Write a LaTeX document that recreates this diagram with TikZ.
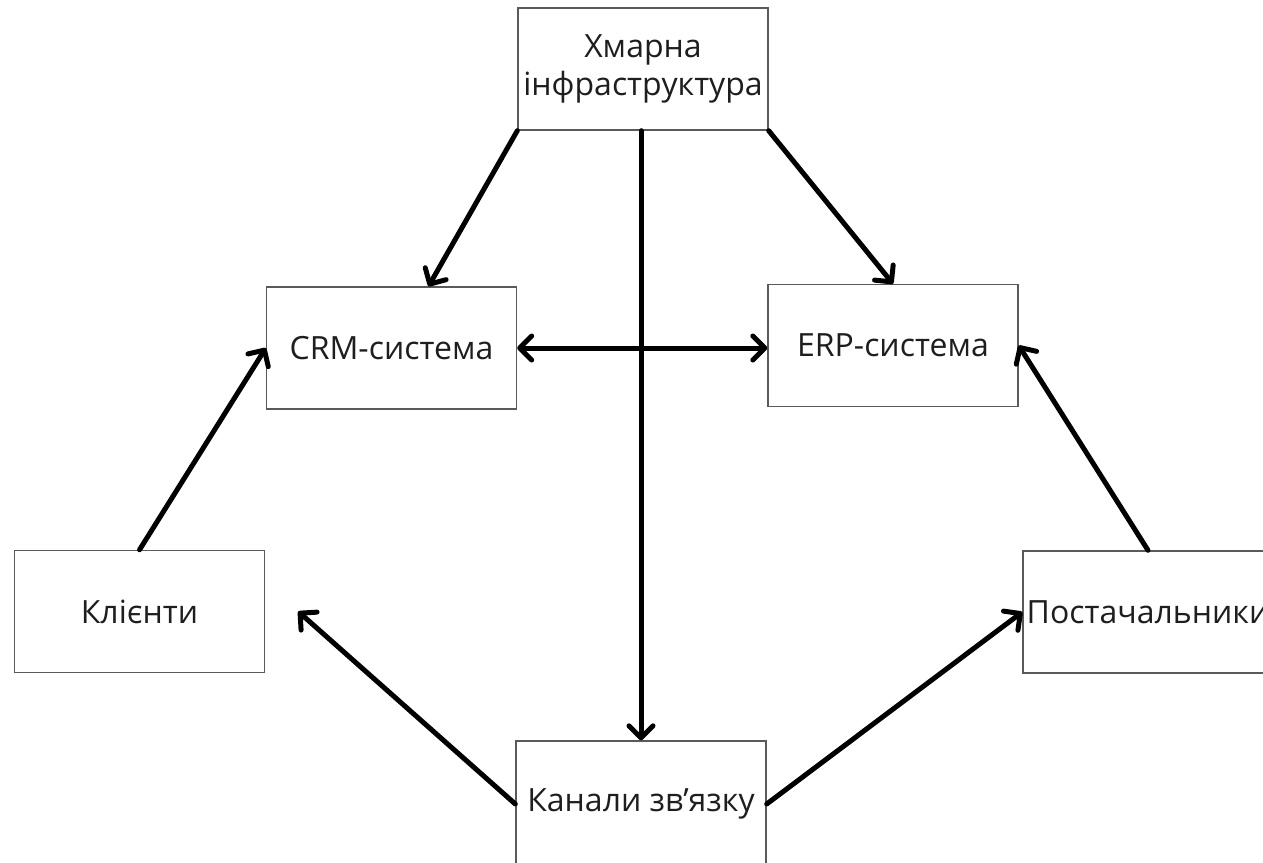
\documentclass[tikz,border=0pt]{standalone}
\usepackage{fontspec}
\setmainfont{Open Sans}
\usepackage{tikz}
\usepackage{xcolor}
\usetikzlibrary{arrows.meta,positioning,calc}
\definecolor{boxline}{HTML}{5A5A5A}
\definecolor{boxtext}{HTML}{1E1E1E}
\tikzset{
  sysbox/.style={
    draw=boxline,
    line width=1.4pt,
    fill=white,
    align=center,
    inner sep=0pt,
    minimum width=250pt,
    minimum height=122pt,
    text=boxtext,
    font=\fontsize{32}{38}\selectfont
  },
  linkarrow/.style={-{Straight Barb[length=12pt,width=24pt,line width=5pt,round]}, line width=5pt, line cap=round, draw=black},
  bothlink/.style={{Straight Barb[length=12pt,width=24pt,line width=5pt,round]}-{Straight Barb[length=12pt,width=24pt,line width=5pt,round]}, line width=5pt, draw=black}
}
\begin{document}
\begin{tikzpicture}[x=1pt,y=-1pt]
\useasboundingbox[fill=white] (0,0) rectangle (1263,862);
\node[sysbox] (cloud) at (643,69) {Хмарна\\інфраструктура};
\node[sysbox] (crm) at (391.5,348) {CRM-система};
\node[sysbox] (erp) at (893,345.5) {ERP-система};
\node[sysbox] (clients) at (139.5,611.5) {Клієнти};
\node[sysbox] (suppliers) at (1148,612) {Постачальники};
\node[sysbox, minimum height=126pt] (channels) at (641,804) {\raisebox{4pt}{Канали зв’язку}};
\coordinate (clientsgap) at ([xshift=33pt]clients.east);

\draw[linkarrow] (cloud.south west) -- ([xshift=37pt]crm.north);
\draw[linkarrow] (cloud.south east) -- (erp.north);
\draw[linkarrow] (channels.north |- cloud.south) -- (channels.north);
\draw[bothlink] (crm.east) -- (crm.east -| erp.west);
\foreach \a/\b in {clients.north/crm.west,suppliers.north/erp.east,channels.east/suppliers.west,channels.west/clientsgap}
  \draw[linkarrow] (\a) -- (\b);
\end{tikzpicture}
\end{document}
